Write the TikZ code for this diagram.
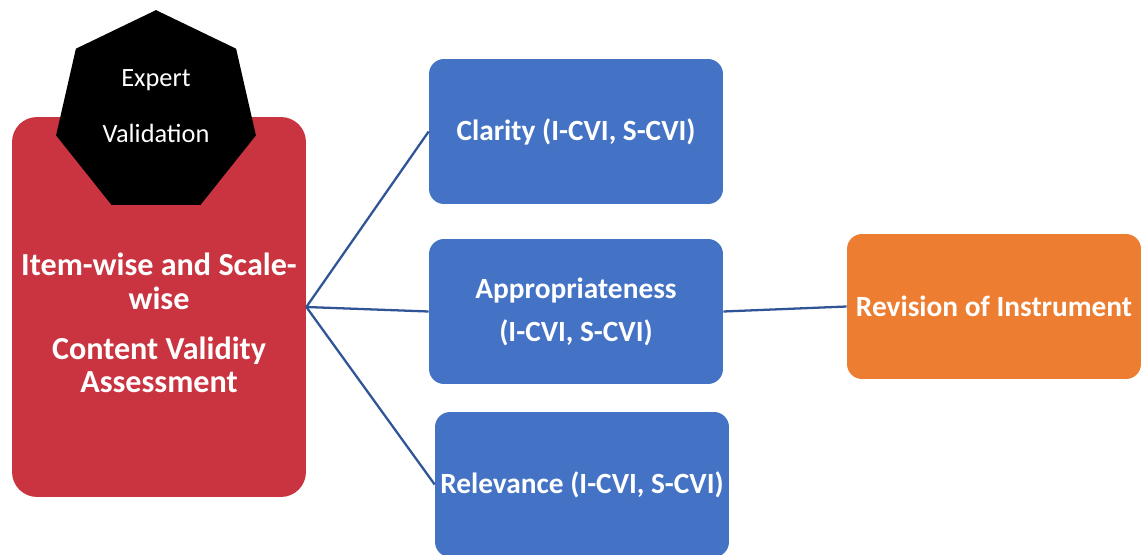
\documentclass[tikz,border=0pt]{standalone}
\usepackage{fontspec}
\setmainfont{Carlito}
\usetikzlibrary{shapes.geometric,positioning}

\definecolor{cvired}{RGB}{201,52,64}
\definecolor{cviblue}{RGB}{68,114,196}
\definecolor{cviorange}{RGB}{237,125,49}
\definecolor{cviline}{RGB}{47,85,151}

\tikzset{
  box/.style={rectangle,rounded corners=0.3cm,minimum width=5.88cm,minimum height=2.9cm,
    text=white,font=\fontsize{16.7}{20}\selectfont\bfseries,align=center,inner sep=2pt},
  link/.style={draw=cviline,line width=1.3pt}
}

\begin{document}
\begin{tikzpicture}[x=0.02cm,y=-0.02cm]
      \useasboundingbox (0,0) rectangle (1145,554);
      \node[box,fill=cvired,rounded corners=0.5cm,minimum height=7.6cm] (assess) at (159,307) {};
      \node[text=white,font=\fontsize{18.3}{19.3}\selectfont\bfseries,align=center] (assesstext) at (159,323)
        {Item-wise and Scale-\\wise\\[9pt]Content Validity\\Assessment};
      \node[regular polygon,regular polygon sides=7,fill=black,minimum size=4.1cm,inner sep=0pt] (expert) at (156,112.6) {};
      \node[text=white,font=\fontsize{15}{16}\selectfont,align=center] (experttext) at (156,106)
        {Expert\\[16pt]Validation};
      \node[box,fill=cviblue] (clarity) at (576,131.5) {Clarity (I-CVI, S-CVI)};
      \node[box,fill=cviblue,font=\fontsize{16.7}{24.4}\selectfont\bfseries] (approp) at (576,311.5)
        {Appropriateness\\(I-CVI, S-CVI)};
      \node[box,fill=cviblue] (relev) at (582,484.5) {Relevance (I-CVI, S-CVI)};
      \node[box,fill=cviorange] (revision) at (994,306.5) {Revision of Instrument};
        \path[link]
          (assess.east) edge (clarity.west)
                        edge (approp.west)
                        edge (relev.west)
          (approp.east) edge (revision.west);
    \end{tikzpicture}
\end{document}
